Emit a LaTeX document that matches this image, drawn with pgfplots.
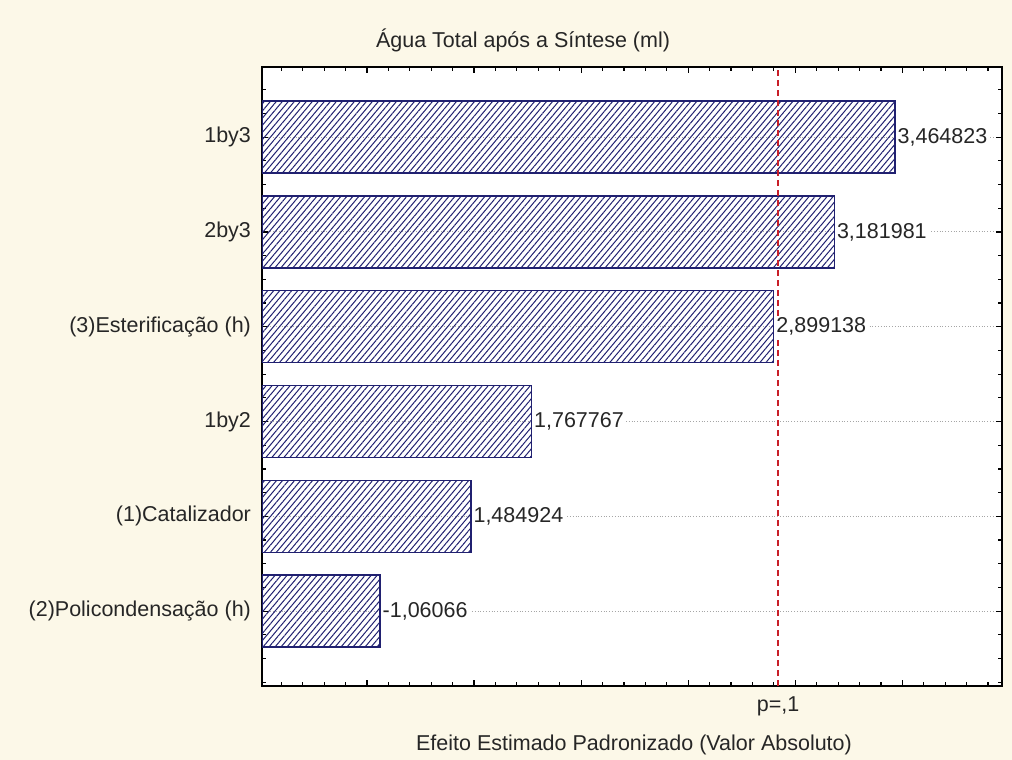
\documentclass[border=0pt]{standalone}
\usepackage{pgfplots}
\pgfplotsset{compat=1.18}
\usepackage{pgfplotstable}
\usetikzlibrary{patterns.meta}
\usepackage{fontspec}
\setmainfont{Liberation Sans}
\definecolor{paper}{RGB}{252,248,232}
\definecolor{barblue}{RGB}{32,32,112}
\definecolor{pline}{RGB}{200,30,40}
\newcommand\plimit{p=,1}

% standardized effects (absolute value), bottom to top
\pgfplotstableread{
idx value label
0 1.06066 -1,06066
1 1.484924 1,484924
2 1.767767 1,767767
3 2.899138 2,899138
4 3.181981 3,181981
5 3.464823 3,464823
}\effects

\begin{document}
\begin{tikzpicture}[font=\fontsize{10.75pt}{13pt}\selectfont]
\fill[paper] (-131pt,-37pt) rectangle (375pt,343pt);
\begin{axis}[
  at={(0,0)}, anchor=south west,
  scale only axis, width=370pt, height=309.5pt,
  xbar, bar width=0.76,
  xmin=0.51, xmax=3.965,
  ymin=-0.79, ymax=5.74,
  axis background/.style={fill=white},
  axis line style={line width=0.9pt, black},
  ytick={0,...,5},
  yticklabels={(2)Policondensação (h),(1)Catalizador,1by2,(3)Esterificação (h),2by3,1by3},
  minor ytick={-0.75,-0.5,...,5.5},
  xtick={1,1.5,...,3.5},
  minor xtick={0.6,0.7,...,3.9},
  xticklabels={},
  tick align=inside,
  major tick length=3pt, minor tick length=1.8pt,
  tick style={black, line width=0.6pt},
  ymajorgrids,
  grid style={gray!70, densely dotted, line width=0.5pt},
  extra x ticks={2.919986},
  extra x tick labels={\plimit},
  extra x tick style={grid=none, major tick length=0pt, tick label style={yshift=-2pt}},
  nodes near coords, point meta=explicit symbolic,
  every node near coord/.append style={anchor=west, fill=white, inner sep=1pt, text=black!85},
  yticklabel style={text=black!85, xshift=-2pt},
  xticklabel style={text=black!85},
]
\addplot[draw=barblue, line width=0.75pt,
  pattern={Lines[angle=50,distance=2.3pt,line width=0.5pt]}, pattern color=barblue]
  table[x=value, y=idx, meta=label] {\effects};
% significance limit, p = 0.1
\draw[pline, line width=0.8pt, dash pattern=on 3pt off 2pt]
  (axis cs:2.919986,-0.79) -- (axis cs:2.919986,5.74);
\end{axis}
\node[text=black!85] at (130.5pt,323pt) {Água Total após a Síntese (ml)};
\node[text=black!85] at (186pt,-29.5pt) {Efeito Estimado Padronizado (Valor Absoluto)};
\pgfresetboundingbox
\useasboundingbox (-131pt,-37pt) rectangle (375pt,343pt);
\end{tikzpicture}
\end{document}
